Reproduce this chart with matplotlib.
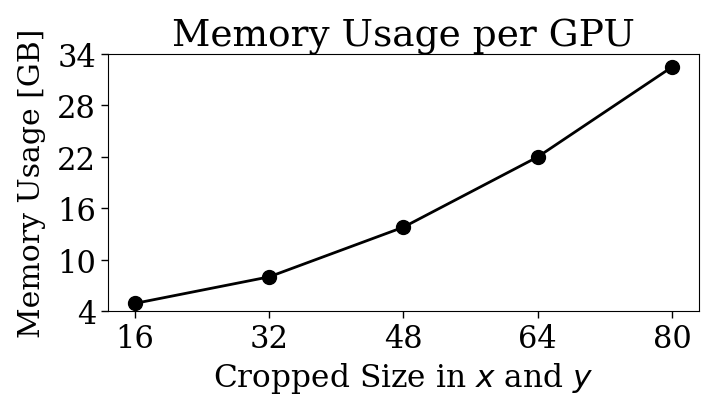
import matplotlib
matplotlib.use('Agg')
import matplotlib.pyplot as plt

# values
crop_size = [16, 32, 48, 64, 80]
mem_gb = [4.9, 8.0, 13.8, 22.0, 32.5]
y_ticks = [4, 10, 16, 22, 28, 34]

plt.rcParams['font.family'] = 'DejaVu Serif'
plt.rcParams['mathtext.fontset'] = 'dejavusans'

fig = plt.figure(figsize=(7.14, 4.14), dpi=100)
ax = fig.add_axes([0.151, 0.246, 0.828, 0.621])

ax.plot(crop_size, mem_gb, 'ko-', markersize=10, linewidth=2)
ax.set_xticks(crop_size)
ax.set_yticks(y_ticks)
ax.set_ylim(4, 34)
ax.tick_params(labelsize=22, length=5, width=1)
ax.set_xlabel('Cropped Size in $x$ and $y$', fontsize=22.5)
ax.set_ylabel('Memory Usage [GB]', fontsize=21.5, labelpad=8)
ax.set_title('Memory Usage per GPU', fontsize=27)

fig.savefig('out.png', dpi=100)
